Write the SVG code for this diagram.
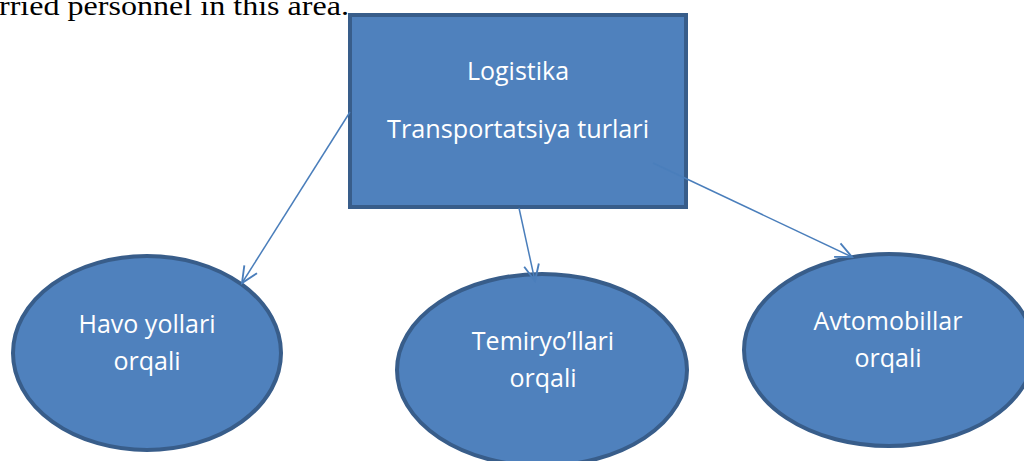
<svg xmlns="http://www.w3.org/2000/svg" width="1024" height="461" viewBox="0 0 1024 461">
<style>
.node{fill:#4F81BD;stroke:#385D8A;stroke-width:4}
.lbl{font-family:"Open Sans","Noto Sans",sans-serif;font-size:25px;fill:#FFFFFF;text-anchor:middle}
.conn{stroke:#4A7EBB;stroke-width:1.5;fill:none;marker-end:url(#arr)}
.body{font-family:"Liberation Serif","Times New Roman",Tinos,serif;font-size:28px;fill:#000000}
</style>
<defs>
<marker id="arr" markerUnits="userSpaceOnUse" markerWidth="20" markerHeight="20" viewBox="-14 -8 16 16" refX="0" refY="0" orient="auto">
<path d="M-13,-6 L0,0 L-13,6" fill="none" stroke="#4A7EBB" stroke-width="1.5"/>
</marker>
</defs>
<rect width="1024" height="461" fill="#FFFFFF"/>
<text class="body" x="-1" y="15" textLength="350" lengthAdjust="spacingAndGlyphs">rried personnel in this area.</text>
<g id="n-logistika">
<rect class="node" x="350" y="15" width="336" height="192"/>
<text class="lbl" x="518" y="80">Logistika</text>
<text class="lbl" x="518" y="138" textLength="262" lengthAdjust="spacingAndGlyphs">Transportatsiya turlari</text>
</g>
<g id="n-havo">
<ellipse class="node" cx="147" cy="353" rx="134" ry="97"/>
<text class="lbl" x="147" y="333">Havo yollari</text>
<text class="lbl" x="147" y="370">orqali</text>
</g>
<g id="n-temir">
<ellipse class="node" cx="542" cy="370" rx="145" ry="96"/>
<text class="lbl" x="543" y="350">Temiryo’llari</text>
<text class="lbl" x="543" y="387">orqali</text>
</g>
<g id="n-avto">
<ellipse class="node" cx="889" cy="350" rx="145" ry="96"/>
<text class="lbl" x="888" y="330">Avtomobillar</text>
<text class="lbl" x="888" y="367">orqali</text>
</g>
<g id="connectors">
<line class="conn" x1="350" y1="112" x2="242" y2="283"/>
<line class="conn" x1="519" y1="208" x2="535" y2="281"/>
<line class="conn" x1="653" y1="163" x2="852" y2="257"/>
</g>
</svg>
